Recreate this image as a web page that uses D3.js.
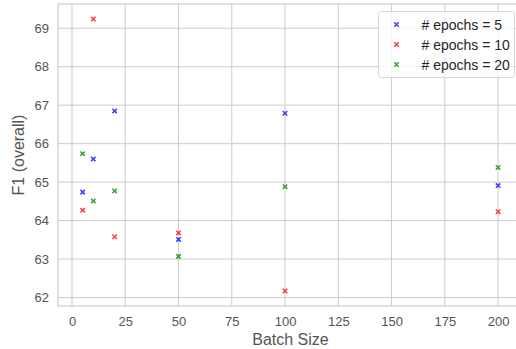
<!DOCTYPE html>
<html><head><meta charset="utf-8">
<script src="https://cdn.jsdelivr.net/npm/d3@7"></script>
<style>body{margin:0;background:#fff;} svg{display:block;font-family:"Liberation Sans",Arial,sans-serif;}</style>
</head><body>
<script>
const batchSizes = [5, 10, 20, 50, 100, 200];
const f1Epochs5  = [64.74, 65.60, 66.85, 63.51, 66.79, 64.91];
const f1Epochs10 = [64.27, 69.24, 63.58, 63.68, 62.17, 64.23];
const f1Epochs20 = [65.74, 64.51, 64.77, 63.07, 64.88, 65.38];
const seriesNames = ["# epochs = 5", "# epochs = 10", "# epochs = 20"];
const seriesColors = ["#0000ff", "#ff0000", "#008000"];
const xTicks = [0, 25, 50, 75, 100, 125, 150, 175, 200];
const yTicks = [62, 63, 64, 65, 66, 67, 68, 69];

const W = 516, H = 349;
const L = 58, R = 523, T = 4, B = 306;
const svg = d3.select("body").append("svg").attr("width", W).attr("height", H);

const x = d3.scaleLinear().domain([-6.57, 211.7]).range([L, R]);
const y = d3.scaleLinear().domain([61.78, 69.63]).range([B, T]);

const grid = "#cccccc";
svg.append("g").selectAll("line").data(xTicks).join("line")
  .attr("x1", d => x(d)).attr("x2", d => x(d)).attr("y1", T).attr("y2", B)
  .attr("stroke", grid).attr("stroke-width", 1);
svg.append("g").selectAll("line").data(yTicks).join("line")
  .attr("y1", d => y(d)).attr("y2", d => y(d)).attr("x1", L).attr("x2", R)
  .attr("stroke", grid).attr("stroke-width", 1);
svg.append("rect").attr("x", L).attr("y", T).attr("width", R - L).attr("height", B - T)
  .attr("fill", "none").attr("stroke", grid).attr("stroke-width", 1.2);

const xAxis = svg.append("g").attr("transform", `translate(0,${B})`)
  .call(d3.axisBottom(x).tickValues(xTicks).tickSize(0).tickPadding(11).tickFormat(d3.format("d")));
const yAxis = svg.append("g").attr("transform", `translate(${L},0)`)
  .call(d3.axisLeft(y).tickValues(yTicks).tickSize(0).tickPadding(9).tickFormat(d3.format("d")));
[xAxis, yAxis].forEach(a => {
  a.select(".domain").remove();
  a.selectAll("text").attr("fill", "#555").attr("font-size", 13)
    .attr("font-family", "Liberation Sans, Arial, sans-serif");
});

svg.append("text").attr("x", (L + R) / 2).attr("y", 345).attr("text-anchor", "middle")
  .attr("fill", "#555").attr("font-size", 16).text("Batch Size");
svg.append("text").attr("transform", `translate(24,${(T + B) / 2}) rotate(-90)`)
  .attr("text-anchor", "middle").attr("fill", "#555").attr("font-size", 16).text("F1 (overall)");

const series = [f1Epochs5, f1Epochs10, f1Epochs20];
const s = 2.2;
const xMark = (cx, cy) => `M${cx - s},${cy - s}L${cx + s},${cy + s}M${cx - s},${cy + s}L${cx + s},${cy - s}`;
series.forEach((vals, i) => {
  svg.append("g").selectAll("path").data(batchSizes.map((b, j) => [b, vals[j]])).join("path")
    .attr("d", d => xMark(x(d[0]), y(d[1])))
    .attr("stroke", seriesColors[i]).attr("stroke-width", 1.6).attr("fill", "none")
    .attr("opacity", 0.75);
});

const lg = svg.append("g");
lg.append("rect").attr("x", 378.5).attr("y", 11.5).attr("width", 136).attr("height", 66)
  .attr("rx", 3).attr("fill", "#fff").attr("fill-opacity", 0.8).attr("stroke", "#d8d8d8");
seriesNames.forEach((n, i) => {
  const cy = 24.5 + i * 20;
  lg.append("path").attr("d", xMark(396.5, cy)).attr("stroke", seriesColors[i])
    .attr("stroke-width", 1.6).attr("opacity", 0.75);
  lg.append("text").attr("x", 421.5).attr("y", cy + 5).attr("font-size", 14)
    .attr("fill", "#262626").text(n);
});
</script>
</body></html>
